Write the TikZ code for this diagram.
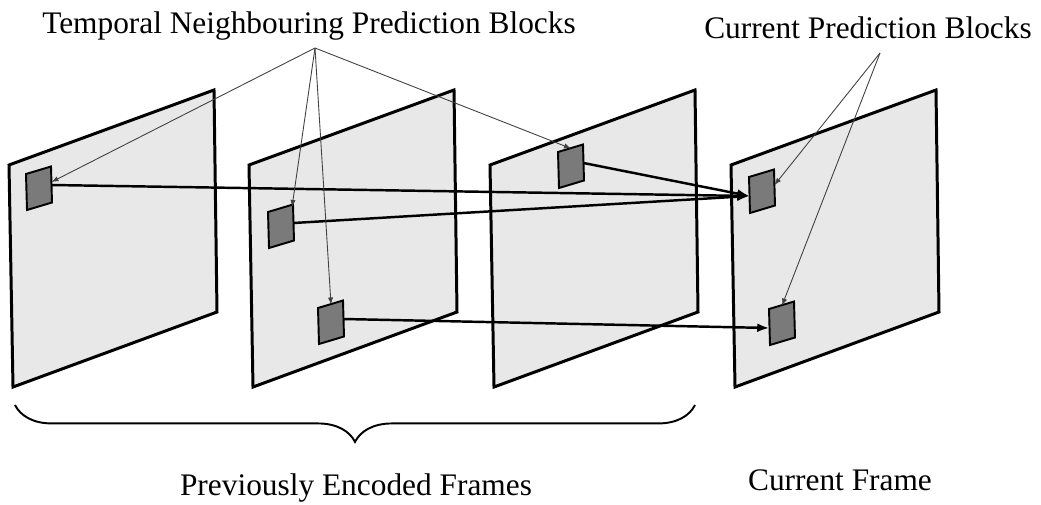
\documentclass[tikz,border=0pt]{standalone}
\usepackage{fontspec}
\setmainfont{Liberation Serif}
\usetikzlibrary{arrows.meta,decorations.pathreplacing}

% block on a frame, given by its top left corner
\newcommand{\pblock}[2]{%
	\begin{scope}[shift={(#2)}]
		\draw[blk] (0,0) -- (25,-7.5) -- (26,28.5) -- (1,36) -- cycle;
		\coordinate (#1-l) at (0.5,19);
		\coordinate (#1-r) at (25.5,11);
		\coordinate (#1-t) at (13,-3.5);
		\coordinate (#1-ur) at (25.5,8);
		\coordinate (#1-tr) at (24,-5);
	\end{scope}
}

\begin{document}
\begin{tikzpicture}[
x=0.02cm,y=-0.02cm,
frm/.style={draw=black,line width=1.7pt,fill=black!9},
blk/.style={draw=black,line width=1.1pt,fill=black!52},
mv/.style={line width=1.4pt,-{Latex[length=7pt,width=5pt]}},
ptr/.style={draw=black!75,line width=0.5pt,-{Latex[length=4pt,width=3pt]}},
lbl/.style={font=\fontsize{17.85}{20}\selectfont,inner sep=0pt,anchor=base},
brc/.style={decorate,decoration={brace,amplitude=21pt},line width=1.1pt}
]
\useasboundingbox (0,0) rectangle (1041,504);

\foreach \x in {9,249,490,731}
	\draw[frm] (\x,165) -- ++(205,-75) -- ++(3,222) -- ++(-204,75) -- cycle;

\pblock{A}{26,174}
\pblock{B}{268,212}
\pblock{C}{318,308}
\pblock{D}{558,152}
\pblock{E}{749,177}
\pblock{F}{769,309}

% motion
\draw[mv] (A-r) -- (E-l);
\draw[mv] (B-r) -- (E-l);
\draw[mv] (D-r) -- (E-l);
\draw[mv] (C-r) -- (F-l);

% labels
\node[lbl] (tnpb) at (309,33) {Temporal Neighbouring Prediction Blocks};
\node[lbl] (cpb) at (868,38) {Current Prediction Blocks};
\node[lbl] (pef) at (356,495) {Previously Encoded Frames};
\node[lbl] (cf) at (840,490) {Current Frame};
\coordinate (tnpb-p) at (315,48);
\coordinate (cpb-p) at (880,53);

\draw[ptr] (tnpb-p) -- (A-ur);
\draw[ptr] (tnpb-p) -- (B-tr);
\draw[ptr] (tnpb-p) -- (C-t);
\draw[ptr] (tnpb-p) -- (D-t);
\draw[ptr] (cpb-p) -- (E-ur);
\draw[ptr] (cpb-p) -- (F-t);

\draw[brc] (695,405) -- (15,405);
\end{tikzpicture}
\end{document}
